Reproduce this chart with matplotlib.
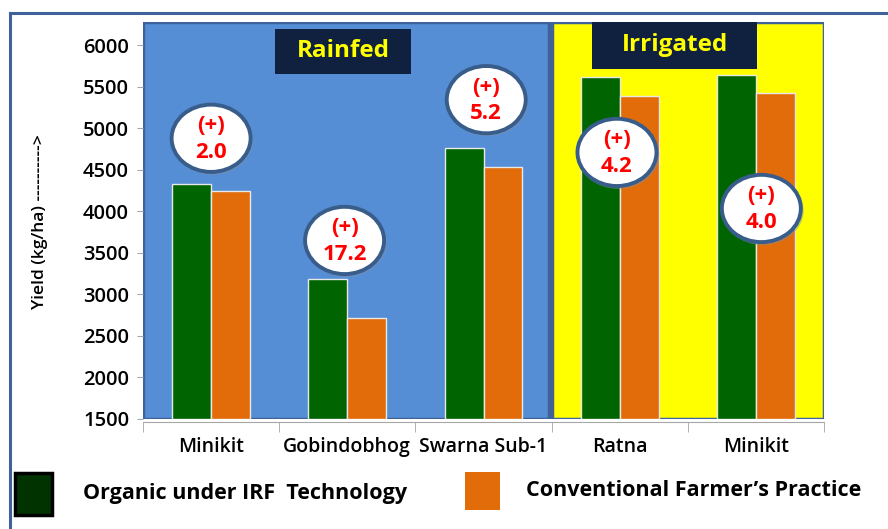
import numpy as np
import matplotlib.pyplot as plt
from matplotlib.patches import Ellipse, Rectangle

plt.rcParams['font.family'] = ['Open Sans', 'DejaVu Sans']

# yield (kg/ha) by variety
varieties = ['Minikit', 'Gobindobhog', 'Swarna Sub-1', 'Ratna', 'Minikit']
organic_irf = [4325, 3185, 4765, 5620, 5640]
conventional = [4240, 2718, 4530, 5395, 5423]
# (x, y) of the gain bubbles, in data units
bubble_pos = [(0.0, 4880), (0.98, 3650), (2.02, 5345), (2.98, 4710), (4.04, 4035)]

GREEN = '#006400'
ORANGE = '#e36c0a'
BLUE_BG = '#558ed5'
YELLOW_BG = '#ffff00'
NAVY = '#10213f'
FRAME = '#3f629a'
YMIN, YMAX = 1500, 6280

fig = plt.figure(figsize=(8.88, 5.29), dpi=100)
fig.patch.set_facecolor('white')

# outer frame lines (top and left)
fig.add_artist(plt.Line2D([10 / 888, 1.0], [1 - 13 / 529] * 2, color=FRAME, lw=2.2))
fig.add_artist(plt.Line2D([10 / 888] * 2, [0.0, 1 - 13 / 529], color=FRAME, lw=2.2))

ax = fig.add_axes([143 / 888, 1 - 419 / 529, 681 / 888, 397 / 529])
ax.set_xlim(-0.5, 4.5)
ax.set_ylim(YMIN, YMAX)

# rainfed / irrigated backgrounds
ax.add_patch(Rectangle((-0.5, YMIN), 2.98, YMAX - YMIN, facecolor=BLUE_BG,
                       edgecolor=FRAME, lw=2.5, zorder=0))
ax.add_patch(Rectangle((2.5, YMIN), 2.0, YMAX - YMIN, facecolor=YELLOW_BG,
                       edgecolor=FRAME, lw=2.5, zorder=0))

x = np.arange(len(varieties))
w = 0.285
ax.bar(x - w / 2, np.array(organic_irf) - YMIN, w, bottom=YMIN, color=GREEN,
       edgecolor='#e8e8e8', lw=1, zorder=2)
ax.bar(x + w / 2, np.array(conventional) - YMIN, w, bottom=YMIN, color=ORANGE,
       edgecolor='#e8e8e8', lw=1, zorder=2)

# percentage gain bubbles
for (bx, by), g, c in zip(bubble_pos, organic_irf, conventional):
    gain = (g / c - 1) * 100
    ax.add_patch(Ellipse((bx + 0.01, by - 25), 0.60, 830, facecolor='#7f8fa6',
                         edgecolor='none', alpha=0.5, zorder=3))
    ax.add_patch(Ellipse((bx, by), 0.58, 810, facecolor='white',
                         edgecolor='#385d8a', lw=2.8, zorder=4))
    ax.text(bx, by + 150, '(+)', ha='center', va='center', color='#ff0000',
            fontsize=16, fontweight='bold', zorder=5)
    ax.text(bx, by - 170, f'{gain:.1f}', ha='center', va='center', color='#ff0000',
            fontsize=16, fontweight='bold', zorder=5)

# section headers: label, x range, y range
for label, x0, x1, y0, y1 in [('Rainfed', 0.47, 1.47, 5650, 6200),
                              ('Irrigated', 2.80, 4.01, 5720, YMAX)]:
    ax.add_patch(Rectangle((x0, y0), x1 - x0, y1 - y0, facecolor=NAVY,
                           edgecolor='none', zorder=3))
    ax.text((x0 + x1) / 2, (y0 + y1) / 2, label, ha='center', va='center',
            color='#ffff00', fontsize=17.5, fontweight='bold', zorder=4)

for s in ['top', 'right', 'left']:
    ax.spines[s].set_visible(False)
ax.spines['bottom'].set_color('#a6a6a6')
ax.spines['bottom'].set_position(('outward', 2))

ax.set_yticks(np.arange(1500, 6001, 500))
ax.tick_params(axis='y', length=4, color='#a6a6a6', labelsize=14.5, pad=6)
ax.set_xticks(x)
ax.set_xticklabels(varieties, fontsize=14, fontweight='semibold')
ax.tick_params(axis='x', length=0, pad=11)
ax.set_xticks(np.arange(-0.5, 4.6, 1), minor=True)
ax.tick_params(axis='x', which='minor', length=7, color='#a6a6a6')
for t in ax.get_yticklabels():
    t.set_fontweight('semibold')

fig.text(40 / 888, 1 - 222 / 529, 'Yield (kg/ha) ---------->', rotation=90,
         ha='center', va='center', fontsize=12.5, fontweight='semibold')

# legend
fig.add_artist(Rectangle((15 / 888, 1 - 515 / 529), 37 / 888, 42 / 529,
                         facecolor='#003300', edgecolor='black', lw=2.5,
                         transform=fig.transFigure))
fig.text(83 / 888, 1 - 493 / 529, 'Organic under IRF  Technology', ha='left',
         va='center', fontsize=15.5, fontweight='bold')
fig.add_artist(Rectangle((465 / 888, 1 - 510 / 529), 35 / 888, 38 / 529,
                         facecolor=ORANGE, edgecolor='none',
                         transform=fig.transFigure))
fig.text(526 / 888, 1 - 491 / 529, 'Conventional Farmer\u2019s Practice', ha='left',
         va='center', fontsize=15.5, fontweight='bold')

fig.savefig('out.png', dpi=100)
